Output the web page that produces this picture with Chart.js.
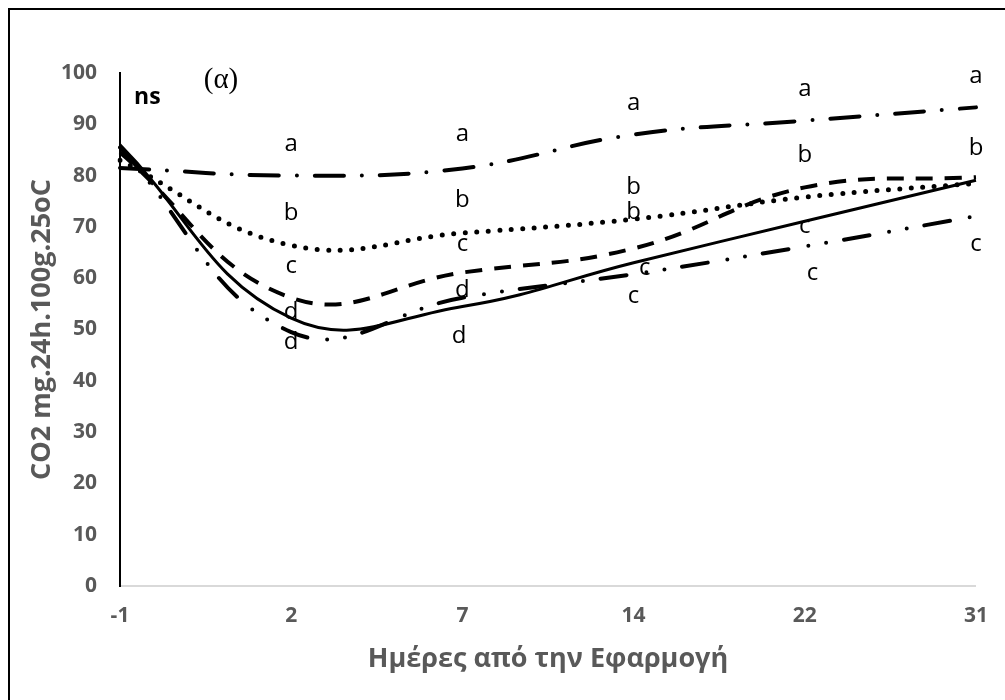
<!DOCTYPE html>
<html>
<head>
<meta charset="utf-8">
<script src="https://cdn.jsdelivr.net/npm/chart.js@4.4.0/dist/chart.umd.min.js"></script>
<style>
  html, body { margin: 0; padding: 0; background: #fff; overflow: hidden; }
  #frame { position: absolute; left: 8px; top: 8px; width: 1100px; height: 800px; border: 2px solid #000; }
  #chart { position: absolute; left: 0; top: 0; }
</style>
</head>
<body>
<div id="frame"></div>
<canvas id="chart" width="1005" height="700"></canvas>
<script>
// days after application (x categories)
const days = ['-1', '2', '7', '14', '22', '31'];

// CO2 values, one array per treatment line
const seriesA = [81.5, 80.0, 81.4, 88.0, 90.7, 93.3];  // dash-dot
const seriesB = [83.0, 66.4, 68.8, 71.5, 75.8, 78.5];  // dotted
const seriesC = [84.5, 56.2, 61.1, 65.8, 77.7, 79.7];  // dashed
const seriesD = [86.0, 52.2, 54.5, 63.0, 71.1, 79.1];  // solid
const seriesE = [85.5, 49.5, 56.2, 60.8, 66.2, 72.1];  // dash-dot-dot

const yTicks = [0, 10, 20, 30, 40, 50, 60, 70, 80, 90, 100];

// significance letters: text, x position (category index), y value
const letterText = ['a','b','c','d','d', 'a','b','c','d','d', 'a','b','b','c','c', 'a','b','c','c', 'a','b','c'];
const letterPos  = [1,1,1,1,1, 2,2,2,2,1.98, 3,3,3,3.065,3, 4,4,4,4.045, 5,5,5];
const letterVal  = [86.2,72.7,62.4,53.4,47.6, 88.1,75.2,66.7,57.7,48.7, 94.1,77.8,72.9,62.0,56.5, 96.9,84.0,70.2,61.0, 99.4,85.4,66.7];

// extra notes on the plot
const notes = [
  {text: 'ns', pos: 0.16, val: 95.3, font: 'bold 23px "Open Sans"'},
  {text: '(α)', pos: 0.59, val: 98.6, font: '29px "Liberation Serif"'}
];

// draws the letters under the lines (one of them is partly hidden in the original)
const lettersPlugin = {
  id: 'letters',
  beforeDatasetsDraw(chart) {
    const ctx = chart.ctx;
    const xs = chart.scales.x, ys = chart.scales.y;
    ctx.save();
    ctx.fillStyle = '#000';
    ctx.textAlign = 'center';
    ctx.textBaseline = 'middle';
    ctx.font = '24px "Open Sans"';
    letterText.forEach((t, i) => {
      ctx.fillText(t, xs.getPixelForValue(letterPos[i]), ys.getPixelForValue(letterVal[i]));
    });
    notes.forEach(n => {
      ctx.font = n.font;
      ctx.fillText(n.text, xs.getPixelForValue(n.pos), ys.getPixelForValue(n.val));
    });
    ctx.restore();
  }
};

function line(data, dash, width, cap) {
  return {
    data: data,
    borderColor: '#000',
    borderWidth: width,
    borderDash: dash,
    borderCapStyle: cap,
    pointRadius: 0,
    fill: false,
    tension: 0.42
  };
}

const ctx = document.getElementById('chart').getContext('2d');
new Chart(ctx, {
  type: 'line',
  data: {
    labels: days,
    datasets: [
      line(seriesA, [29, 18, 0, 18], 4, 'round'),
      line(seriesB, [0, 11.5], 5, 'round'),
      line(seriesC, [17, 12], 4, 'butt'),
      line(seriesD, [], 3, 'butt'),
      line(seriesE, [26, 20, 0, 18, 0, 18], 4, 'round')
    ]
  },
  options: {
    responsive: false,
    animation: false,
    layout: { padding: { left: 0, right: 18, top: 73, bottom: 0 } },
    plugins: { legend: { display: false }, tooltip: { enabled: false } },
    scales: {
      x: {
        grid: { display: false, drawTicks: false },
        border: { display: true, color: '#d9d9d9', width: 2 },
        ticks: { color: '#595959', font: { family: 'Open Sans', size: 21, weight: 'bold' }, padding: 17, maxRotation: 0 },
        title: {
          display: true,
          text: 'Ημέρες από την Εφαρμογή',
          color: '#595959',
          font: { family: 'Open Sans', size: 27, weight: 'bold' },
          padding: { top: 0, bottom: 24 }
        },
        afterFit(scale) { scale.height = 114; }
      },
      y: {
        min: 0,
        max: 100,
        afterBuildTicks(scale) { scale.ticks = yTicks.map(v => ({ value: v })); },
        grid: { display: false, drawTicks: false },
        border: { display: true, color: '#000', width: 2 },
        ticks: { color: '#595959', font: { family: 'Open Sans', size: 21, weight: 'bold' }, padding: 23 },
        title: {
          display: true,
          text: 'CO2 mg.24h.100g.25oC',
          color: '#595959',
          font: { family: 'Open Sans', size: 27, weight: 'bold' },
          padding: { top: 26, bottom: 0 }
        },
        afterFit(scale) { scale.width = 120; }
      }
    }
  },
  plugins: [lettersPlugin]
});
</script>
</body>
</html>
